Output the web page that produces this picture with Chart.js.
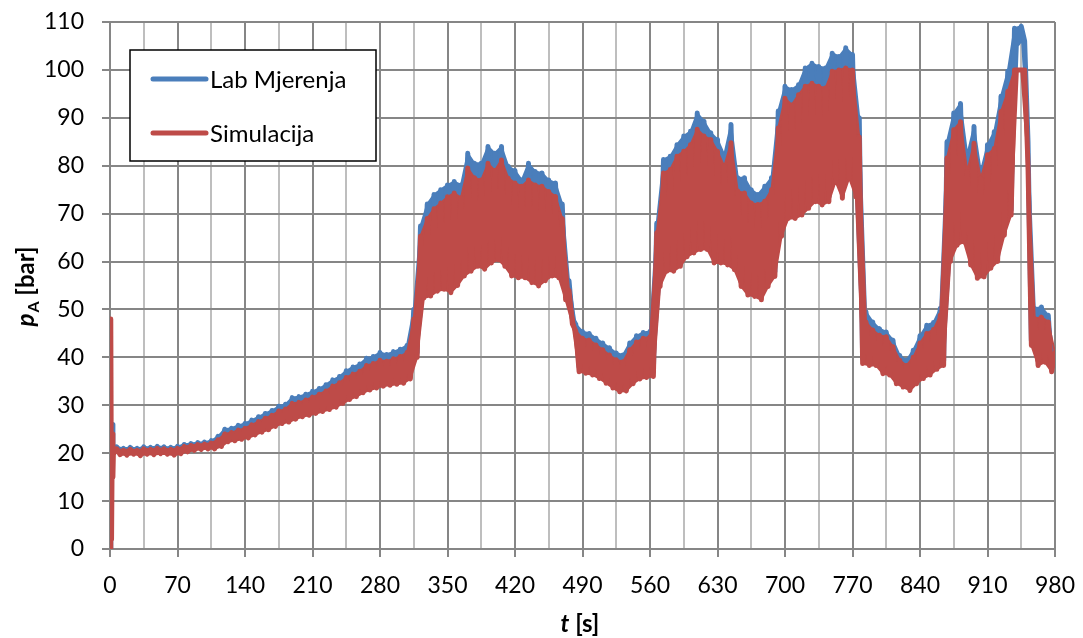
<!DOCTYPE html>
<html>
<head>
<meta charset="utf-8">
<script src="https://cdn.jsdelivr.net/npm/chart.js@4/dist/chart.umd.min.js"></script>
<style>
  html, body { margin: 0; padding: 0; background: #ffffff; }
  #wrap { position: relative; width: 1083px; height: 638px; }
</style>
</head>
<body>
<div id="wrap"><canvas id="c" width="1083" height="638"></canvas></div>
<script>
// ---- Data ----
const seriesNames = ['Lab Mjerenja', 'Simulacija'];
const xTickLabels = [0, 70, 140, 210, 280, 350, 420, 490, 560, 630, 700, 770, 840, 910, 980];
const yTickLabels = [0, 10, 20, 30, 40, 50, 60, 70, 80, 90, 100, 110];

// start-up transient (t < 3.5 s)
const headTime = [0, 0.8, 1.6, 2.4, 3.0, 3.5];
const labHead  = [0, 5, 18, 26, 22, 20.4];
const simHead  = [0, 48, 2, 24, 15, 19.8];

// oscillation crests (t = 7, 14, ..., 980 s)
const labHigh = [
  21.3, 21.0, 21.2, 21.0, 21.3, 21.2, 21.4, 21.3, 21.2, 21.4,
  21.8, 22.0, 22.2, 22.3, 22.6, 23.5, 25.0, 25.2, 25.8, 26.2,
  26.9, 27.6, 28.3, 28.9, 29.8, 30.2, 31.6, 31.8, 32.3, 32.9,
  33.5, 34.3, 35.3, 36.0, 37.2, 38.0, 38.6, 39.8, 40.2, 41.0,
  40.6, 41.2, 41.7, 42.5, 50.0, 67.4, 72.0, 74.0, 75.0, 76.0,
  76.7, 76.0, 82.6, 80.5, 80.5, 84.0, 82.6, 84.0, 79.9, 79.0,
  77.0, 80.5, 78.8, 78.5, 77.0, 76.4, 72.0, 56.0, 46.9, 45.4,
  45.0, 44.0, 43.0, 42.0, 40.9, 40.5, 43.0, 44.5, 45.2, 45.4,
  68.0, 81.3, 82.0, 84.4, 86.2, 87.2, 91.0, 89.3, 86.9, 85.5,
  82.3, 88.6, 77.5, 77.5, 75.0, 74.0, 75.7, 77.5, 91.4, 96.6,
  95.9, 96.9, 100.4, 101.4, 100.7, 100.4, 103.5, 102.8, 104.6, 103.2,
  90.0, 49.5, 47.4, 46.0, 45.3, 43.6, 40.4, 39.4, 41.5, 44.5,
  46.7, 47.3, 50.2, 85.0, 91.0, 93.0, 82.3, 88.2, 78.8, 84.4,
  87.1, 94.5, 99.7, 108.7, 109.1, 85.0, 50.2, 50.5, 48.8, 39.0
];
const simHigh = [
  20.9, 20.6, 20.8, 20.6, 20.9, 20.8, 21.0, 20.9, 20.8, 21.0,
  21.4, 21.6, 21.8, 21.9, 22.1, 22.8, 24.0, 24.3, 24.8, 25.2,
  25.9, 26.6, 27.3, 27.9, 28.8, 29.2, 30.4, 30.6, 31.1, 31.7,
  32.3, 33.0, 34.0, 34.7, 35.8, 36.5, 37.1, 38.3, 38.7, 39.4,
  39.2, 39.7, 40.2, 41.0, 48.0, 65.3, 69.0, 71.0, 72.2, 73.5,
  74.3, 73.3, 79.5, 77.5, 77.0, 80.5, 79.0, 81.2, 77.4, 76.4,
  75.7, 77.0, 76.0, 75.7, 74.6, 73.6, 69.0, 54.0, 45.5, 44.0,
  43.6, 42.6, 41.6, 40.5, 39.5, 39.1, 41.6, 43.2, 44.0, 44.3,
  66.0, 78.5, 79.2, 82.0, 83.0, 84.4, 87.6, 86.2, 85.5, 83.0,
  79.9, 84.8, 74.7, 74.3, 72.2, 71.9, 72.6, 75.0, 87.9, 94.1,
  92.7, 94.8, 96.6, 97.2, 96.6, 96.2, 99.7, 100.0, 100.4, 100.0,
  86.0, 47.4, 45.7, 44.6, 44.3, 42.2, 39.4, 38.3, 40.0, 43.0,
  45.0, 45.8, 48.8, 81.6, 87.5, 89.2, 78.8, 84.7, 77.4, 82.3,
  83.6, 91.3, 95.5, 100.0, 100.0, 80.0, 48.1, 48.4, 47.4, 41.0
];
// oscillation troughs (t = 10.5, 17.5, ..., 976.5 s)
const labLow = [
  20.3, 20.2, 20.4, 20.1, 20.4, 20.3, 20.5, 20.4, 20.2, 20.5,
  20.9, 21.2, 21.4, 21.5, 21.5, 22.0, 23.0, 23.2, 23.5, 23.8,
  24.4, 25.0, 25.5, 26.2, 26.8, 27.1, 27.7, 28.2, 28.5, 28.9,
  29.3, 29.7, 30.2, 31.0, 31.8, 32.4, 33.2, 33.8, 34.2, 34.6,
  34.8, 35.0, 35.2, 36.1, 41.0, 53.4, 53.8, 54.8, 55.2, 54.5,
  56.0, 58.0, 59.0, 60.0, 59.4, 60.7, 61.4, 60.0, 58.0, 57.6,
  57.6, 56.6, 55.9, 57.0, 58.0, 57.6, 53.0, 48.0, 38.0, 37.7,
  37.3, 36.6, 35.6, 34.6, 33.8, 34.0, 35.5, 36.5, 36.8, 37.0,
  55.8, 59.0, 59.0, 60.0, 62.0, 62.8, 63.5, 63.5, 60.7, 60.7,
  60.3, 59.3, 55.8, 54.0, 53.7, 53.0, 55.8, 57.9, 66.3, 70.0,
  70.0, 70.7, 72.1, 73.5, 72.8, 73.5, 77.7, 74.2, 78.4, 74.5,
  39.7, 39.3, 39.3, 37.6, 37.3, 35.5, 34.8, 34.1, 35.5, 36.6,
  37.3, 38.5, 39.3, 61.0, 64.4, 65.1, 60.3, 57.5, 57.8, 59.6,
  61.0, 66.5, 70.7, 105.5, 106.0, 43.5, 39.3, 40.0, 38.0
];
const simLow = [
  19.7, 19.6, 19.8, 19.5, 19.8, 19.7, 19.9, 19.8, 19.6, 19.9,
  20.3, 20.6, 20.8, 20.9, 20.9, 21.4, 22.4, 22.6, 22.9, 23.2,
  23.8, 24.4, 24.9, 25.6, 26.2, 26.5, 27.1, 27.6, 27.9, 28.3,
  28.7, 29.1, 29.6, 30.4, 31.2, 31.8, 32.6, 33.2, 33.6, 34.0,
  34.2, 34.4, 34.6, 35.5, 40.0, 52.4, 52.8, 53.8, 54.2, 53.5,
  55.0, 57.0, 58.0, 59.0, 58.4, 59.7, 60.4, 59.0, 57.0, 56.6,
  56.6, 55.6, 54.9, 56.0, 57.0, 56.6, 52.0, 47.0, 37.0, 36.7,
  36.3, 35.6, 34.6, 33.6, 32.8, 33.0, 34.5, 35.5, 35.8, 36.0,
  54.8, 58.0, 58.0, 59.0, 61.0, 61.8, 62.5, 62.5, 59.7, 59.7,
  59.3, 58.3, 54.8, 53.0, 52.7, 52.0, 54.8, 56.9, 65.3, 69.0,
  69.0, 69.7, 71.1, 72.5, 71.8, 72.5, 76.7, 73.2, 77.4, 73.5,
  38.7, 38.3, 38.3, 36.6, 36.3, 34.5, 33.8, 33.1, 34.5, 35.6,
  36.3, 37.5, 38.3, 60.0, 63.4, 64.1, 59.3, 56.5, 56.8, 58.6,
  60.0, 65.5, 69.7, 100.0, 100.0, 42.5, 38.3, 39.0, 37.0
];
const crestPeriod = 7;   // s between crests (sampling grid)

// ---- Build series from the arrays ----
function crestPoints(high) {
  return high.map((v, k) => ({ x: crestPeriod * (k + 1), y: v }));
}
function troughPoints(low) {
  return low.map((v, k) => ({ x: crestPeriod * (k + 1) + crestPeriod / 2, y: v }));
}
function zigzag(head, high, low) {
  const pts = head.map((v, i) => ({ x: headTime[i], y: v }));
  const c = crestPoints(high), t = troughPoints(low);
  c.forEach((p, k) => { pts.push(p); if (t[k]) pts.push(t[k]); });
  return pts;
}

const FONT = 'Lato, "Liberation Sans", sans-serif';
const BLUE = '#4A7EBB';
const RED = '#BE4B48';
const GRID_MAJOR = '#868686';
const GRID_MINOR = '#BEBEBE';

const lineStyle = (col) => ({
  borderColor: col, backgroundColor: col, borderWidth: 5, pointRadius: 0, tension: 0,
  borderJoinStyle: 'round', borderCapStyle: 'round'
});

const titlesAndLegend = {
  id: 'titlesAndLegend',
  afterDraw(chart) {
    const ctx = chart.ctx;
    const area = chart.chartArea;
    ctx.save();
    // legend box
    const lx = area.left + 20, ly = area.top + 28, lw = 246, lh = 111;
    ctx.fillStyle = '#ffffff';
    ctx.fillRect(lx, ly, lw, lh);
    ctx.strokeStyle = '#000000';
    ctx.lineWidth = 1.5;
    ctx.strokeRect(lx, ly, lw, lh);
    const rows = [[seriesNames[0], BLUE, ly + 29], [seriesNames[1], RED, ly + 83]];
    ctx.lineCap = 'round';
    ctx.lineWidth = 5;
    ctx.font = '24px ' + FONT;
    ctx.textBaseline = 'middle';
    ctx.textAlign = 'left';
    rows.forEach(([name, col, y]) => {
      ctx.strokeStyle = col;
      ctx.beginPath();
      ctx.moveTo(lx + 23, y);
      ctx.lineTo(lx + 76, y);
      ctx.stroke();
      ctx.fillStyle = '#000';
      ctx.fillText(name, lx + 80, y + 1);
    });
    // x axis title: t [s]
    ctx.fillStyle = '#000';
    ctx.textBaseline = 'alphabetic';
    const xt1 = 't', xt2 = ' [s]';
    ctx.font = 'italic bold 24px ' + FONT;
    const w1 = ctx.measureText(xt1).width;
    ctx.font = 'bold 24px ' + FONT;
    const w2 = ctx.measureText(xt2).width;
    const sx = 580 - (w1 + w2) / 2;
    const by = 632;
    ctx.font = 'italic bold 24px ' + FONT;
    ctx.fillText(xt1, sx, by);
    ctx.font = 'bold 24px ' + FONT;
    ctx.fillText(xt2, sx + w1, by);
    // y axis title: p_A [bar]
    ctx.translate(34, 287);
    ctx.rotate(-Math.PI / 2);
    ctx.font = 'italic bold 24px ' + FONT;
    const p1 = 'p';
    const pw1 = ctx.measureText(p1).width;
    ctx.font = 'bold 16px ' + FONT;
    const p2 = 'A';
    const pw2 = ctx.measureText(p2).width;
    ctx.font = 'bold 24px ' + FONT;
    const p3 = ' [bar]';
    const pw3 = ctx.measureText(p3).width;
    const px = -(pw1 + pw2 + pw3) / 2;
    ctx.font = 'italic bold 24px ' + FONT;
    ctx.fillText(p1, px, 0);
    ctx.font = 'bold 16px ' + FONT;
    ctx.fillText(p2, px + pw1 + 1, 5);
    ctx.font = 'bold 24px ' + FONT;
    ctx.fillText(p3, px + pw1 + pw2 + 1, 0);
    ctx.restore();
  }
};

new Chart(document.getElementById('c'), {
  type: 'line',
  data: {
    datasets: [
      // 0: measured signal
      { label: seriesNames[0], data: zigzag(labHead, labHigh, labLow), ...lineStyle(BLUE), order: 3 },
      // 1-2: measured crest / trough envelope (dense oscillation band)
      { label: seriesNames[0] + ' band', data: crestPoints(labHigh), ...lineStyle(BLUE), borderWidth: 2, fill: 2, order: 4 },
      { label: seriesNames[0] + ' band low', data: troughPoints(labLow), ...lineStyle(BLUE), borderWidth: 2, fill: false, order: 4 },
      // 3: simulated signal
      { label: seriesNames[1], data: zigzag(simHead, simHigh, simLow), ...lineStyle(RED), order: 1 },
      // 4-5: simulated crest / trough envelope
      { label: seriesNames[1] + ' band', data: crestPoints(simHigh), ...lineStyle(RED), borderWidth: 2, fill: 5, order: 2 },
      { label: seriesNames[1] + ' band low', data: troughPoints(simLow), ...lineStyle(RED), borderWidth: 2, fill: false, order: 2 }
    ]
  },
  options: {
    responsive: false,
    animation: false,
    devicePixelRatio: 1,
    layout: { padding: { top: 22, right: 28, left: 0, bottom: 0 } },
    plugins: { legend: { display: false }, tooltip: { enabled: false }, title: { display: false } },
    scales: {
      x: {
        type: 'linear',
        min: xTickLabels[0],
        max: xTickLabels[xTickLabels.length - 1],
        ticks: {
          stepSize: 35,
          autoSkip: false,
          maxRotation: 0,
          color: '#000',
          font: { family: FONT, size: 23 },
          padding: 15,
          callback: v => (xTickLabels.includes(v) ? String(v) : '')
        },
        grid: {
          color: c => (c.tick && xTickLabels.includes(c.tick.value) ? GRID_MAJOR : GRID_MINOR),
          tickColor: c => (c.tick && xTickLabels.includes(c.tick.value) ? GRID_MAJOR : 'rgba(0,0,0,0)'),
          lineWidth: 2,
          tickLength: 8
        },
        border: { display: false },
        afterFit: s => { s.height = 89; s.paddingLeft = 0; s.paddingRight = 0; }
      },
      y: {
        min: yTickLabels[0],
        max: yTickLabels[yTickLabels.length - 1],
        ticks: {
          stepSize: 10,
          color: '#000',
          font: { family: FONT, size: 23 },
          padding: 18
        },
        grid: { color: GRID_MAJOR, lineWidth: 2, tickLength: 8 },
        border: { display: false },
        afterFit: s => { s.width = 110; s.paddingTop = 0; s.paddingBottom = 0; }
      }
    }
  },
  plugins: [titlesAndLegend]
});
</script>
</body>
</html>
